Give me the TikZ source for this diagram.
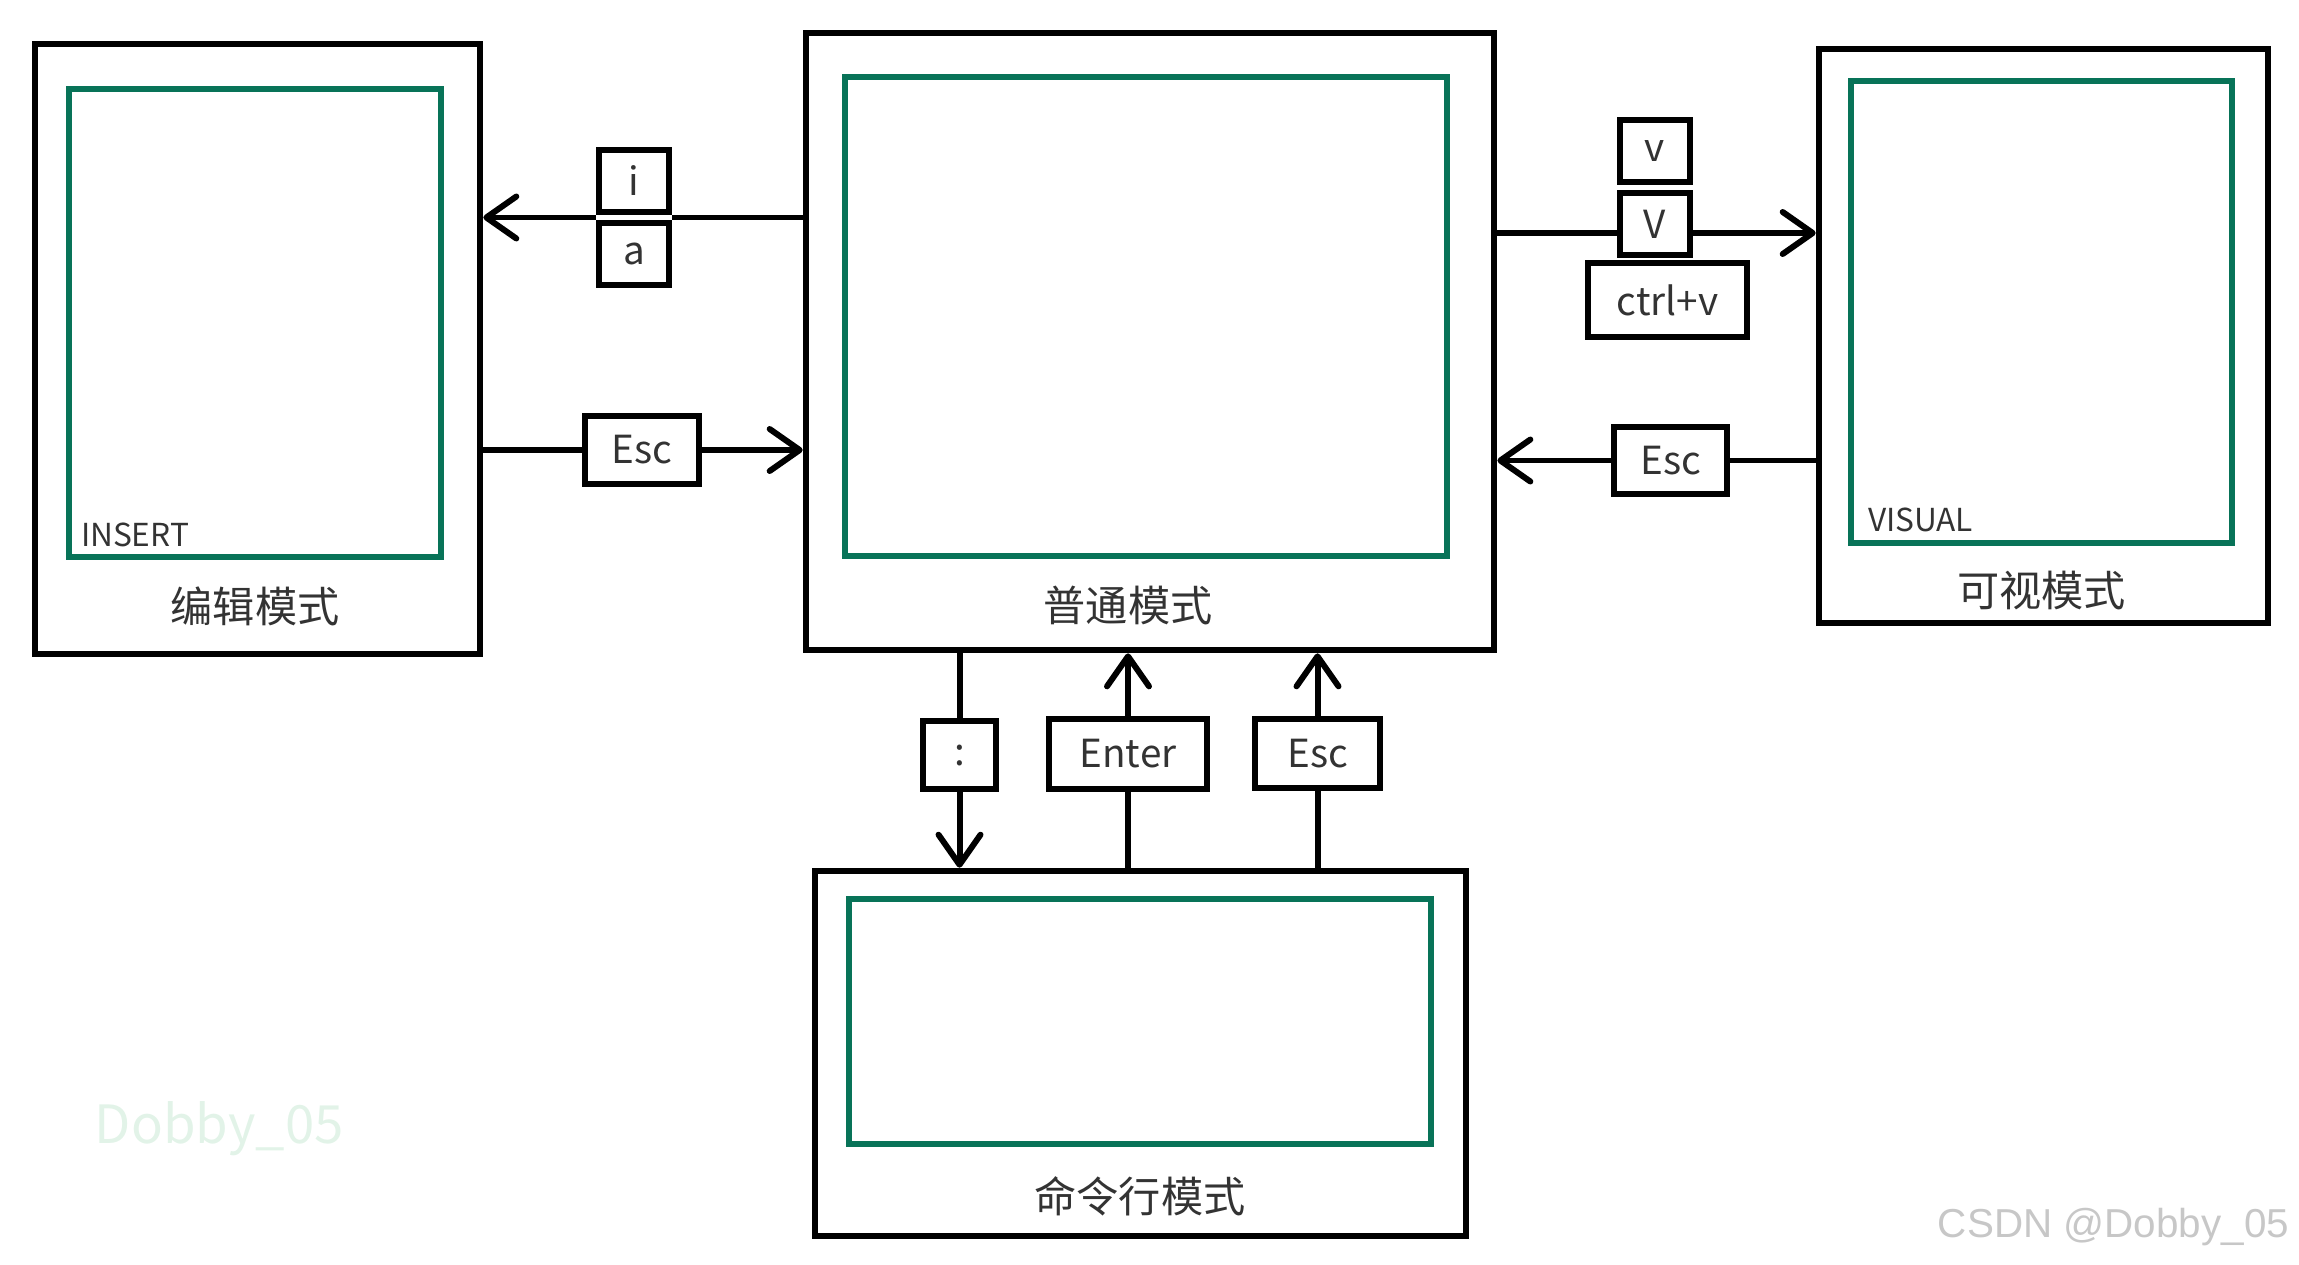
\documentclass[tikz,border=0pt]{standalone}
\usepackage{fontspec}
\setmainfont{Noto Sans CJK SC}
\newfontfamily\wmfont{Liberation Sans}
\usepackage{tikz}
\usetikzlibrary{arrows.meta,positioning,calc}
\definecolor{screengreen}{RGB}{8,115,88}
\definecolor{labelgray}{RGB}{51,51,51}
\definecolor{wmgreen}{RGB}{226,243,232}

\begin{document}
\begin{tikzpicture}[>={Straight Barb[length=3mm,width=4.2mm,round]}, line width=1.7pt]
  \tikzstyle{mode}=[draw, rectangle, line width=1.9pt, inner sep=0pt]
  \tikzstyle{screen}=[draw=screengreen, rectangle, line width=1.7pt, inner sep=0pt]
  \tikzstyle{modelabel}=[inner sep=0pt, text=labelgray, font=\fontsize{12}{14}\selectfont]
  \tikzstyle{tag}=[inner sep=0pt, text=labelgray, font=\fontsize{9}{10}\selectfont]
  \tikzstyle{keybox}=[draw, rectangle, line width=1.7pt, inner sep=0pt, minimum width=0.70cm, minimum height=0.62cm, text=labelgray, font=\fontsize{11}{12}\selectfont]
  \useasboundingbox (0,0) rectangle (22.99,-12.64);

  % the four modes
  \node[mode, minimum width=4.45cm, minimum height=6.10cm] (insert) at (2.575,-3.49) {};
  \node[screen, minimum width=3.72cm, minimum height=4.68cm] (insertin) at (2.55,-3.23) {};
  \node[tag, above right=0.10cm and 0.12cm of insertin.south west] (inserttag) {INSERT};
  \node[modelabel, below=0.24cm of insertin] (insertlbl) {编辑模式};

  \node[mode, minimum width=6.88cm, minimum height=6.17cm] (normal) at (11.50,-3.415) {};
  \node[screen, minimum width=6.02cm, minimum height=4.79cm] (normalin) at (11.46,-3.165) {};
  \node[modelabel, below=0.24cm of normalin, xshift=-1.8mm] (normallbl) {普通模式};

  \node[mode, minimum width=4.49cm, minimum height=5.74cm] (visual) at (20.435,-3.36) {};
  \node[screen, minimum width=3.81cm, minimum height=4.62cm] (visualin) at (20.415,-3.12) {};
  \node[tag, above right=0.11cm and 0.17cm of visualin.south west] (visualtag) {VISUAL};
  \node[modelabel, below=0.22cm of visualin] (visuallbl) {可视模式};

  \node[mode, minimum width=6.51cm, minimum height=3.65cm] (cmd) at (11.405,-10.535) {};
  \node[screen, minimum width=5.82cm, minimum height=2.45cm] (cmdin) at (11.40,-10.215) {};
  \node[modelabel, below=0.27cm of cmdin] (cmdlbl) {命令行模式};

  % keys
  \node[keybox] (keyi) at (6.34,-1.81) {i};
  \node[keybox, below=0.05cm of keyi] (keya) {a};
  \node[keybox, minimum width=1.14cm, minimum height=0.68cm] (keyesc1) at (6.42,-4.50) {Esc};

  \node[keybox] (keyv) at (16.55,-1.51) {v};
  \node[keybox, below=0.05cm of keyv] (keyV) {V};
  \node[keybox, below=0.02cm of keyV, xshift=1.25mm, minimum width=1.59cm, minimum height=0.74cm] (keyctrlv) {ctrl+v};
  \node[keybox, minimum width=1.13cm, minimum height=0.67cm] (keyesc2) at (16.705,-4.605) {Esc};

  \node[keybox, minimum width=0.73cm, minimum height=0.68cm] (keycolon) at (9.595,-7.55) {:};
  \node[keybox, minimum width=1.58cm, minimum height=0.70cm] (keyenter) at (11.28,-7.54) {Enter};
  \node[keybox, minimum width=1.25cm, minimum height=0.69cm] (keyesc3) at (13.175,-7.535) {Esc};

  % normal <-> insert
  \coordinate (ia) at ($(keyi.south)!0.5!(keya.north)$);
  \draw (ia -| normal.west) -- (ia -| keyi.east);
  \draw[->] (ia -| keyi.west) -- (ia -| insert.east);
  \draw (insert.east |- keyesc1) -- (keyesc1.west);
  \draw[->] (keyesc1.east) -- (keyesc1 -| normal.west);

  % normal <-> visual
  \coordinate (vline) at (0,-2.33);
  \draw (vline -| normal.east) -- (vline -| keyV.west);
  \draw[->] (vline -| keyV.east) -- (vline -| visual.west);
  \draw (visual.west |- keyesc2) -- (keyesc2.east);
  \draw[->] (keyesc2.west) -- (keyesc2 -| normal.east);

  % normal <-> command line
  \draw (normal.south -| keycolon) -- (keycolon.north);
  \draw[->] (keycolon.south) -- (keycolon |- cmd.north);
  \draw (cmd.north -| keyenter) -- (keyenter.south);
  \draw[->] (keyenter.north) -- (keyenter |- normal.south);
  \draw (cmd.north -| keyesc3) -- (keyesc3.south);
  \draw[->] (keyesc3.north) -- (keyesc3 |- normal.south);

  % watermarks
  \node[inner sep=0pt, anchor=base west, text=wmgreen, font=\fontsize{15}{17}\selectfont] (wm) at (0.92,-11.43) {Dobby\_05};
  \node[inner sep=0pt, anchor=base east, text=black!22, font=\wmfont\fontsize{11.5}{13}\selectfont] (csdn) at (22.92,-12.37) {CSDN @Dobby\_05};
\end{tikzpicture}
\end{document}
